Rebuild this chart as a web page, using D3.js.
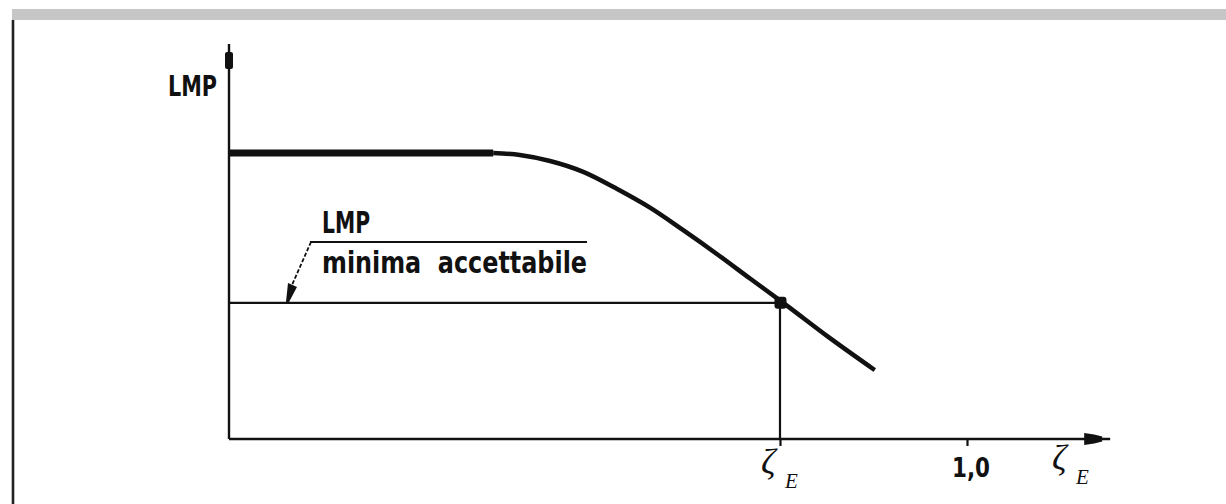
<!DOCTYPE html>
<html>
<head>
<meta charset="utf-8">
<script src="https://cdn.jsdelivr.net/npm/d3@7"></script>
<style>
  html, body { margin: 0; padding: 0; background: #fff; }
  svg { display: block; }
</style>
</head>
<body>
<svg id="chart" width="1226" height="504"></svg>
<script>
// ---- data (arbitrary units) ----
// x: zeta_E (1.0 marked), y: LMP (plateau = 1)
const plateauX = [0.0, 0.358];
const plateauY = [1.0, 1.0];
const curveX = [0.358, 0.394, 0.435, 0.480, 0.526, 0.571, 0.615, 0.661, 0.706, 0.751, 0.812, 0.875];
const curveY = [1.000, 0.993, 0.972, 0.934, 0.874, 0.808, 0.731, 0.647, 0.561, 0.476, 0.357, 0.241];
const zetaE = 0.7466;          // point where curve meets minimum LMP
const lmpMin = 0.476;          // minimum acceptable LMP
const tickValues = [zetaE, 1.0];
const tickLabels = ["", "1,0"];
const xAxisMax = 1.194;
const yAxisMax = 1.381;

const svg = d3.select("#chart");
const x = d3.scaleLinear().domain([0, 1]).range([229, 967]);
const y = d3.scaleLinear().domain([0, 1]).range([439, 153]);

// frame decorations
svg.append("rect").attr("x", 12).attr("y", 9).attr("width", 1214).attr("height", 11).attr("fill", "#c6c6c6");
svg.append("line").attr("x1", 13).attr("x2", 13).attr("y1", 20).attr("y2", 504)
  .attr("stroke", "#222").attr("stroke-width", 2.6);

const ink = "#111";
const blockFont = "DejaVu Sans Condensed, DejaVu Sans";

// axes lines
svg.append("line").attr("x1", x(0)).attr("x2", x(xAxisMax)).attr("y1", y(0)).attr("y2", y(0))
  .attr("stroke", ink).attr("stroke-width", 2.4);
svg.append("line").attr("x1", x(0)).attr("x2", x(0)).attr("y1", y(0)).attr("y2", y(yAxisMax))
  .attr("stroke", ink).attr("stroke-width", 2.4);

// x-axis arrowhead
const ax = x(xAxisMax), ay = y(0);
svg.append("polygon")
  .attr("points", [[ax-26,ay-6],[ax-16,ay-4.5],[ax-8,ay-2.5],[ax-8,ay+2.5],[ax-16,ay+4.5],[ax-26,ay+6]].map(p=>p.join(",")).join(" "))
  .attr("fill", ink);
// y-axis arrowhead
const by = y(yAxisMax);
svg.append("rect").attr("x", x(0)-4).attr("y", by+8).attr("width", 8).attr("height", 17).attr("rx", 2).attr("fill", ink);

// ticks via d3 axis
const xAxis = d3.axisBottom(x).tickValues(tickValues).tickSize(7).tickFormat("");
const gx = svg.append("g").attr("transform", `translate(0,${y(0)})`).call(xAxis);
gx.select(".domain").remove();
gx.selectAll(".tick line").attr("stroke", ink).attr("stroke-width", 2.2);

// tick label "1,0"
svg.append("text").attr("x", x(tickValues[1]) - 15).attr("y", 477)
  .attr("font-family", blockFont).attr("font-weight", "bold")
  .attr("font-size", 26).attr("textLength", 38).attr("lengthAdjust", "spacingAndGlyphs")
  .attr("fill", ink).text(tickLabels[1]);

// zeta_E labels
function zetaLabel(xl, base) {
  svg.append("text").attr("x", xl).attr("y", base)
    .attr("font-family", "Liberation Serif, Times New Roman, serif").attr("font-style", "italic")
    .attr("font-size", 36).attr("fill", ink).text("ζ");
  svg.append("text").attr("x", xl + 24).attr("y", base + 14)
    .attr("font-family", "Liberation Serif, Times New Roman, serif").attr("font-style", "italic")
    .attr("font-size", 21).attr("fill", ink).text("E");
}
zetaLabel(x(zetaE) - 19, 474);
zetaLabel(1052, 470);

// y-axis label
svg.append("text").attr("x", 168).attr("y", 96)
  .attr("font-family", blockFont).attr("font-weight", "bold")
  .attr("font-size", 28).attr("textLength", 49).attr("lengthAdjust", "spacingAndGlyphs")
  .attr("fill", ink).text("LMP");

// minimum acceptable LMP line + guide
svg.append("line").attr("x1", x(0)).attr("x2", x(zetaE)).attr("y1", y(lmpMin)).attr("y2", y(lmpMin))
  .attr("stroke", ink).attr("stroke-width", 2.2);
svg.append("line").attr("x1", x(zetaE)).attr("x2", x(zetaE)).attr("y1", y(lmpMin)).attr("y2", y(0))
  .attr("stroke", ink).attr("stroke-width", 2.2);

// plateau (thick) and curve
const line = d3.line().x(d => x(d[0])).y(d => y(d[1]));
svg.append("path").datum(plateauX.map((v, i) => [v, plateauY[i]]))
  .attr("d", line).attr("fill", "none").attr("stroke", ink).attr("stroke-width", 7);
svg.append("path").datum(curveX.map((v, i) => [v, curveY[i]]))
  .attr("d", d3.line().x(d => x(d[0])).y(d => y(d[1])).curve(d3.curveMonotoneX))
  .attr("fill", "none").attr("stroke", ink).attr("stroke-width", 4.5).attr("stroke-linecap", "butt");

// intersection point
svg.append("rect").attr("x", x(zetaE) - 5.5).attr("y", y(lmpMin) - 6).attr("width", 12).attr("height", 12)
  .attr("rx", 3).attr("fill", ink);

// annotation "LMP / minima accettabile"
svg.append("text").attr("x", 322).attr("y", 233)
  .attr("font-family", blockFont).attr("font-weight", "bold")
  .attr("font-size", 30).attr("textLength", 48).attr("lengthAdjust", "spacingAndGlyphs")
  .attr("fill", ink).text("LMP");
svg.append("line").attr("x1", 310).attr("x2", 587).attr("y1", 242).attr("y2", 242)
  .attr("stroke", ink).attr("stroke-width", 2);
svg.append("text").attr("x", 322).attr("y", 273)
  .attr("font-family", blockFont).attr("font-weight", "bold")
  .attr("font-size", 31).attr("textLength", 265).attr("lengthAdjust", "spacingAndGlyphs")
  .attr("fill", ink).style("white-space", "pre").text("minima  accettabile");
// leader with arrow
svg.append("line").attr("x1", 311).attr("y1", 242).attr("x2", 292).attr("y2", 285)
  .attr("stroke", ink).attr("stroke-width", 1.8).attr("stroke-dasharray", "4,2");
svg.append("polygon").attr("points", "288,283 297,287 289,302 286,302").attr("fill", ink);
</script>
</body>
</html>
